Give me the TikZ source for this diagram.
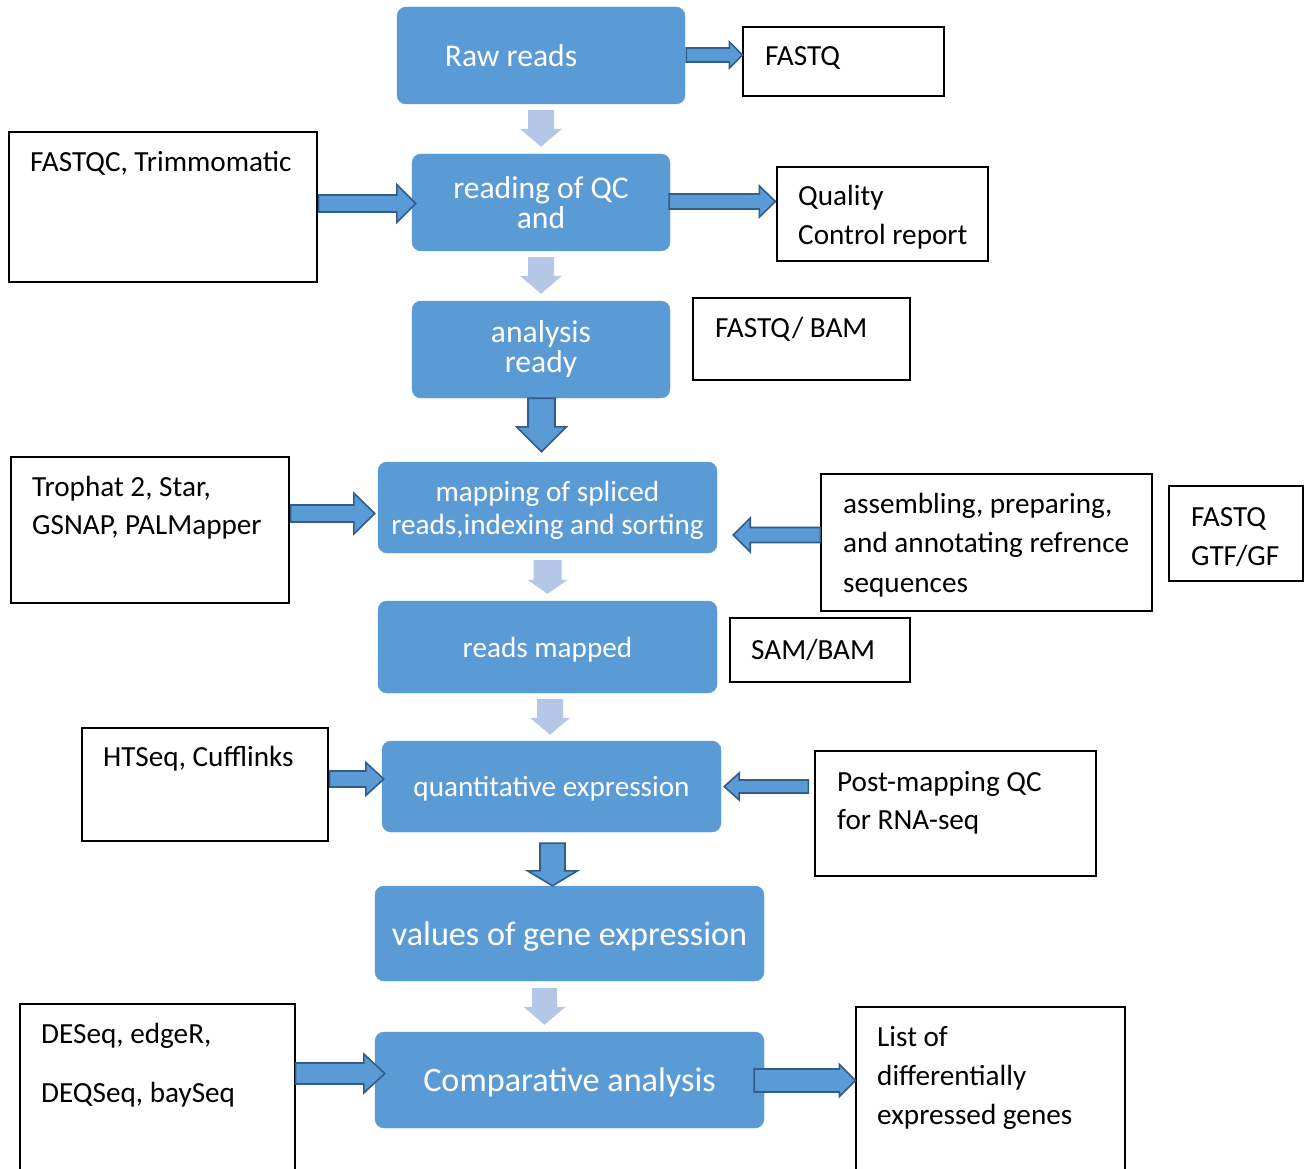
\documentclass[tikz,border=0pt]{standalone}
\usepackage{fontspec}
\setmainfont{Carlito}
\usetikzlibrary{calc}
\definecolor{boxblue}{RGB}{91,155,213}
\definecolor{edgeblue}{RGB}{49,92,140}
\definecolor{paleblue}{RGB}{180,199,231}

% block arrows: #1 from, #2 target, #3 shaft half width, #4 head half width, #5 head length
\newcommand{\blockright}[5]{%
  \coordinate (s) at #1; \coordinate (e) at #2; \coordinate (t) at (s -| e);
  \draw[blocklink] ($(s)+(0,-#3)$) -- ($(t)+(-#5,-#3)$) -- ($(t)+(-#5,-#4)$) -- (t)
    -- ($(t)+(-#5,#4)$) -- ($(t)+(-#5,#3)$) -- ($(s)+(0,#3)$) -- cycle;}
\newcommand{\blockleft}[5]{%
  \coordinate (s) at #1; \coordinate (e) at #2; \coordinate (t) at (s -| e);
  \draw[blocklink] ($(s)+(0,-#3)$) -- ($(t)+(#5,-#3)$) -- ($(t)+(#5,-#4)$) -- (t)
    -- ($(t)+(#5,#4)$) -- ($(t)+(#5,#3)$) -- ($(s)+(0,#3)$) -- cycle;}
\newcommand{\blockdown}[6][blocklink]{%
  \coordinate (s) at #2; \coordinate (e) at #3; \coordinate (t) at (s |- e);
  \draw[#1] ($(s)+(-#4,0)$) -- ($(t)+(-#4,-#6)$) -- ($(t)+(-#5,-#6)$) -- (t)
    -- ($(t)+(#5,-#6)$) -- ($(t)+(#4,-#6)$) -- ($(s)+(#4,0)$) -- cycle;}

\begin{document}
\begin{tikzpicture}[
    x=1pt, y=-1pt,
    procbox/.style={rectangle, rounded corners=9pt, fill=boxblue, draw=boxblue, text=white, align=center, inner sep=0pt, font=\fontsize{29.2}{33}\selectfont},
    filebox/.style={rectangle, draw=black, line width=1.2pt, inner sep=0pt},
    boxtext/.style={anchor=base west, align=left, inner sep=0pt, font=\fontsize{29.2}{39}\selectfont},
    blocklink/.style={fill=boxblue, draw=edgeblue, line width=1.6pt, line join=miter},
    lightlink/.style={fill=paleblue, draw=none}
  ]
    \useasboundingbox (0,0) rectangle (1312,1169);

    \node[procbox, minimum width=288pt, minimum height=97pt, font=\fontsize{31.6}{30}\selectfont] (raw) at (541,55.5) {Raw reads\hspace*{60pt}};
    \node[procbox, minimum width=258pt, minimum height=97pt, font=\fontsize{31.6}{30}\selectfont] (qc) at (541,202.5) {reading of QC\\and};
    \node[procbox, minimum width=258pt, minimum height=97pt, font=\fontsize{31.6}{30}\selectfont] (ready) at (541,349.5) {analysis\\ready};
    \node[procbox, minimum width=339pt, minimum height=91pt, text depth=0pt] (mapping) at (547.5,507.5) {mapping of spliced\\reads,indexing and sorting};
    \node[procbox, minimum width=339pt, minimum height=92pt, text depth=0pt] (mapped) at (547.5,647) {reads mapped};
    \node[procbox, minimum width=339pt, minimum height=91pt, text depth=0pt] (quant) at (551.5,786.5) {quantitative expression};
    \node[procbox, minimum width=389pt, minimum height=95pt, text depth=0pt, font=\fontsize{34.2}{40}\selectfont] (values) at (569.5,933.5) {values of gene expression};
    \node[procbox, minimum width=389pt, minimum height=96pt, text depth=0pt, font=\fontsize{34.2}{40}\selectfont] (comp) at (569.5,1080) {Comparative analysis};

    \node[filebox, minimum width=201pt, minimum height=69pt] (fastq) at (843.5,61.5) {};
    \node[filebox, minimum width=308pt, minimum height=150pt] (qctools) at (163,207) {};
    \node[filebox, minimum width=211pt, minimum height=94pt] (qcrep) at (882.5,214) {};
    \node[filebox, minimum width=217pt, minimum height=82pt] (fqbam) at (801.5,339) {};
    \node[filebox, minimum width=278pt, minimum height=146pt] (maptools) at (150,530) {};
    \node[filebox, minimum width=331pt, minimum height=137pt] (refseq) at (986.5,542.5) {};
    \node[filebox, minimum width=134pt, minimum height=95pt] (gtf) at (1236,533.5) {};
    \node[filebox, minimum width=180pt, minimum height=64pt] (sambam) at (820,650) {};
    \node[filebox, minimum width=246pt, minimum height=113pt] (quanttools) at (205,784.5) {};
    \node[filebox, minimum width=281pt, minimum height=125pt] (postqc) at (955.5,813.5) {};
    \node[filebox, minimum width=275pt, minimum height=176pt] (detools) at (157.5,1092) {};
    \node[filebox, minimum width=269pt, minimum height=173pt] (degenes) at (990.5,1093.5) {};

    % text sits on the baseline of its last line
    \node[boxtext] (fastqtext) at (765,66) {FASTQ};
    \node[boxtext] (qctoolstext) at (30,172) {FASTQC, Trimmomatic};
    \node[boxtext] (qcreptext) at (798,244) {Quality\\Control report};
    \node[boxtext] (fqbamtext) at (715,337) {FASTQ/ BAM};
    \node[boxtext, font=\fontsize{29.2}{38}\selectfont] (maptoolstext) at (32,534) {Trophat 2, Star,\\GSNAP, PALMapper};
    \node[boxtext, font=\fontsize{29.2}{39.5}\selectfont] (refseqtext) at (843,592) {assembling, preparing,\\and annotating refrence\\sequences};
    \node[boxtext] (gtftext) at (1191,565) {FASTQ\\GTF/GF};
    \node[boxtext] (sambamtext) at (751,659) {SAM/BAM};
    \node[boxtext] (quanttoolstext) at (103,766) {HTSeq, Cufflinks};
    \node[boxtext, font=\fontsize{29.2}{38}\selectfont] (postqctext) at (837,829) {Post-mapping QC\\for RNA-seq};
    \node[boxtext] (detoolstext) at (41,1102) {DESeq, edgeR,\\[20pt]DEQSeq, baySeq};
    \node[boxtext] (degenestext) at (877,1124) {List of\\differentially\\expressed genes};

    \blockdown[lightlink]{($(raw.south)+(0,6)$)}{($(qc.north)+(0,-7)$)}{13}{21}{18}
    \blockdown[lightlink]{($(qc.south)+(0,6)$)}{($(ready.north)+(0,-7)$)}{13}{21}{18}
    \blockdown[lightlink]{($(mapping.south)+(0,7)$)}{($(mapped.north)+(0,-7)$)}{14}{20}{14}
    \blockdown[lightlink]{($(mapped.south)+(2.5,6)$)}{($(quant.north)+(0,-6)$)}{13}{20}{17}
    \blockdown[lightlink]{($(values.south)+(-25,7)$)}{($(comp.north)+(0,-7)$)}{12.5}{21}{18}

    \blockdown{($(ready.south)+(0.5,0)$)}{($(mapping.north)+(0,-10)$)}{13.5}{25}{25}
    \blockdown{($(quant.south)+(1,11)$)}{(values.north)}{12.5}{25}{15}

    \blockright{($(raw.east)+(1,-0.5)$)}{(fastq.west)}{7}{13}{13}
    \blockright{($(qctools.east)+(1,-3.5)$)}{($(qc.west)+(4,0)$)}{8.5}{19}{19}
    \blockright{($(qc.east)+(-1,-1)$)}{($(qcrep.west)+(-1,0)$)}{7.5}{15.5}{16}
    \blockright{($(maptools.east)+(1,-16.5)$)}{($(mapping.west)+(-3,0)$)}{8.5}{20.5}{21}
    \blockright{($(quanttools.east)+(1,-5.5)$)}{($(quant.west)+(2,0)$)}{8}{16.5}{18}
    \blockright{($(detools.east)+(0,-18.5)$)}{($(comp.west)+(10,0)$)}{10.5}{19.5}{21}
    \blockright{($(comp.east)+(-10,0.5)$)}{(degenes.west)}{11.5}{16}{16}

    \blockleft{($(refseq.west)+(0,-7.5)$)}{($(mapping.east)+(16,0)$)}{7.5}{17}{17}
    \blockleft{($(postqc.west)+(-6,-27)$)}{($(quant.east)+(3,0)$)}{6.5}{13.5}{15}
\end{tikzpicture}
\end{document}
